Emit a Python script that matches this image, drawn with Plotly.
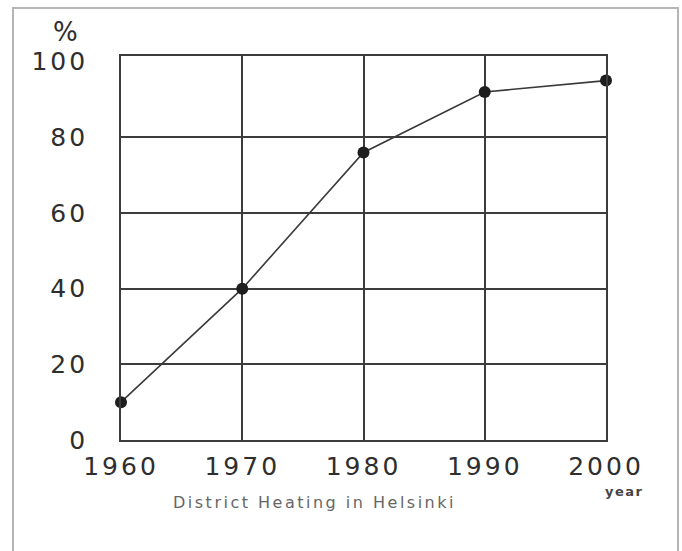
import plotly.graph_objects as go

years = [1960, 1970, 1980, 1990, 2000]
share_pct = [10, 40, 76, 92, 95]
x_ticks = [1960, 1970, 1980, 1990, 2000]
y_ticks = [0, 20, 40, 60, 80, 100]
y_grid = [20, 40, 60, 80]

W, H = 682, 551
L, R, T, B = 121, 606, 56, 440  # plot area in pixels

def px(xp):
    return (xp - L) / (R - L)

def py(yp):
    return (B - yp) / (B - T)

def spaced(s, sp):
    return f'<span style="letter-spacing:{sp}px">{s}</span>'

ink = "#2e2e2e"
grid = "#3c3c3c"
fig = go.Figure()
fig.add_trace(go.Scatter(
    x=years, y=share_pct, mode="lines+markers",
    line=dict(color="#3a3a3a", width=1.6),
    marker=dict(color="#1e1e1e", size=12),
    cliponaxis=False, showlegend=False, hoverinfo="x+y",
))

fig.update_layout(
    width=W, height=H,
    margin=dict(l=L, r=W - R, t=T, b=H - B, pad=0),
    paper_bgcolor="white", plot_bgcolor="white",
    font=dict(family="DejaVu Sans", color=ink),
    xaxis=dict(range=[1960, 2000], tickvals=x_ticks,
               ticktext=[spaced(v, 3) for v in x_ticks],
               showgrid=True, gridcolor=grid, gridwidth=1.6,
               showline=True, linecolor=grid, linewidth=1.8, mirror=True,
               zeroline=False, ticks="", ticklabelstandoff=3,
               tickfont=dict(size=25, color=ink)),
    yaxis=dict(range=[0, 101.5], tickvals=y_ticks,
               ticktext=[spaced(v, 3) for v in y_ticks],
               showgrid=False,
               minor=dict(tickvals=y_grid, showgrid=True, gridcolor=grid, gridwidth=1.6, ticks=""),
               showline=True, linecolor=grid, linewidth=1.8, mirror=True,
               zeroline=False, ticks="", ticklabelstandoff=26,
               tickfont=dict(size=25, color=ink)),
    shapes=[dict(type="rect", xref="paper", yref="paper",
                 x0=px(13), x1=px(678), y0=py(565), y1=py(8),
                 line=dict(color="#b5b5b5", width=2), fillcolor="rgba(0,0,0,0)", layer="below")],
    annotations=[
        dict(text="%", xref="paper", yref="paper", x=px(65), y=py(32),
             showarrow=False, font=dict(size=26, color=ink), xanchor="center", yanchor="middle"),
        dict(text=spaced("year", 1.5), xref="paper", yref="paper", x=px(624), y=py(491),
             showarrow=False, font=dict(size=13, color="#444", weight="bold"),
             xanchor="center", yanchor="middle"),
        dict(text=spaced("District Heating in Helsinki", 2.5), xref="paper", yref="paper",
             x=px(314), y=py(502), showarrow=False,
             font=dict(size=16, color="#666"), xanchor="center", yanchor="middle"),
    ],
)

fig.write_html("out.html", config={"displayModeBar": False},
               post_script="document.body.style.margin='0';")
